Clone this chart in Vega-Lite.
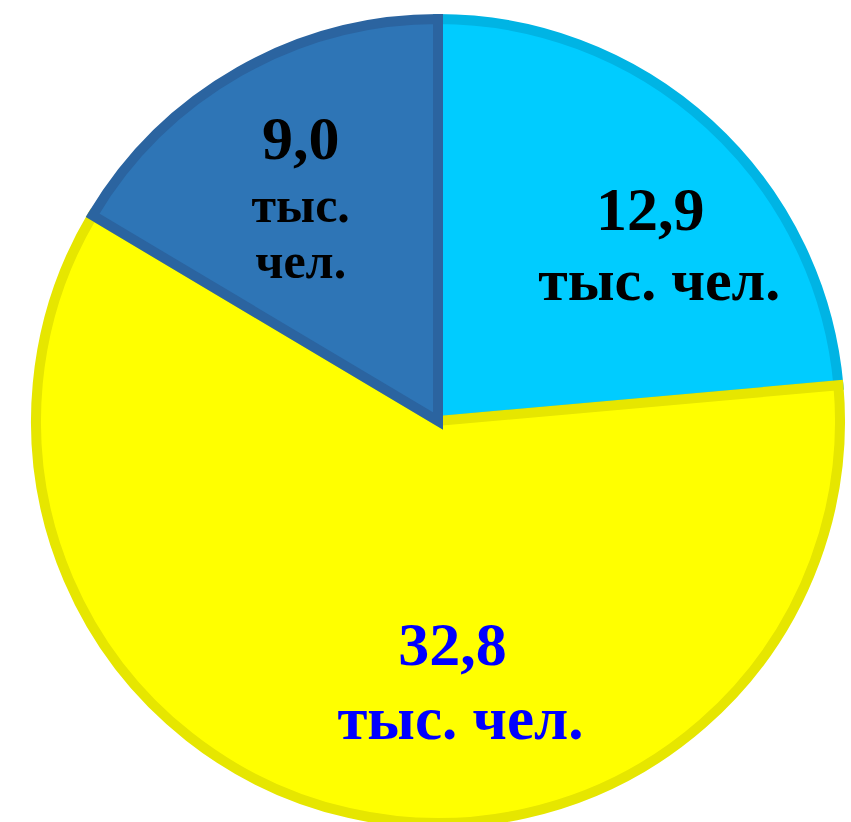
{
  "$schema": "https://vega.github.io/schema/vega-lite/v6.json",
  "width": 826,
  "height": 802,
  "autosize": {"type": "none"},
  "padding": {"left": 25, "top": 20, "right": 0, "bottom": 0},
  "background": "white",
  "view": {"stroke": null},
  "data": {
    "values": [
      {"category": "cyan", "value": 12.9, "label": "12,9", "unit": "тыс. чел.", "order": 1},
      {"category": "yellow", "value": 32.8, "label": "32,8", "unit": "тыс. чел.", "order": 2},
      {"category": "blue", "value": 9.0, "label": "9,0", "unit": "тыс. чел.", "order": 3}
    ]
  },
  "encoding": {
    "theta": {"field": "value", "type": "quantitative", "stack": true},
    "order": {"field": "order", "type": "quantitative"}
  },
  "layer": [
    {
      "mark": {"type": "arc", "radius": 402, "strokeWidth": 10, "strokeJoin": "miter"},
      "encoding": {
        "color": {"field": "category", "type": "nominal", "legend": null,
          "scale": {"domain": ["cyan", "yellow", "blue"], "range": ["#00CCFF", "#FFFF00", "#2E75B6"]}},
        "stroke": {"field": "category", "type": "nominal", "legend": null,
          "scale": {"domain": ["cyan", "yellow", "blue"], "range": ["#00B4E4", "#E6E600", "#2B64A0"]}}
      }
    },
    {
      "mark": {"type": "text", "radius": 270, "dx": 30, "dy": 8, "font": "Liberation Serif", "fontWeight": "bold", "fontSize": 62, "baseline": "alphabetic", "align": "center", "color": "#000000"},
      "encoding": {"text": {"condition": {"test": "datum.category === 'cyan'", "field": "label"}, "value": ""}}
    },
    {
      "mark": {"type": "text", "radius": 270, "dx": 39, "dy": 78, "font": "Liberation Serif", "fontWeight": "bold", "fontSize": 60, "baseline": "alphabetic", "align": "center", "color": "#000000"},
      "encoding": {"text": {"condition": {"test": "datum.category === 'cyan'", "field": "unit"}, "value": ""}}
    },
    {
      "mark": {"type": "text", "radius": 250, "dx": 70, "dy": 0, "font": "Liberation Serif", "fontWeight": "bold", "fontSize": 62, "baseline": "alphabetic", "align": "center", "color": "#0000FF"},
      "encoding": {"text": {"condition": {"test": "datum.category === 'yellow'", "field": "label"}, "value": ""}}
    },
    {
      "mark": {"type": "text", "radius": 250, "dx": 78, "dy": 74, "font": "Liberation Serif", "fontWeight": "bold", "fontSize": 61, "baseline": "alphabetic", "align": "center", "color": "#0000FF"},
      "encoding": {"text": {"condition": {"test": "datum.category === 'yellow'", "field": "unit"}, "value": ""}}
    },
    {
      "mark": {"type": "text", "radius": 290, "dx": 6, "dy": -10, "font": "Liberation Serif", "fontWeight": "bold", "fontSize": 62, "baseline": "alphabetic", "align": "center", "color": "#000000"},
      "encoding": {"text": {"condition": {"test": "datum.category === 'blue'", "field": "label"}, "value": ""}}
    },
    {
      "mark": {"type": "text", "radius": 290, "dx": 6, "dy": 53, "font": "Liberation Serif", "fontWeight": "bold", "fontSize": 50, "lineHeight": 56, "lineBreak": " ", "baseline": "alphabetic", "align": "center", "color": "#000000"},
      "encoding": {"text": {"condition": {"test": "datum.category === 'blue'", "field": "unit"}, "value": ""}}
    }
  ]
}
